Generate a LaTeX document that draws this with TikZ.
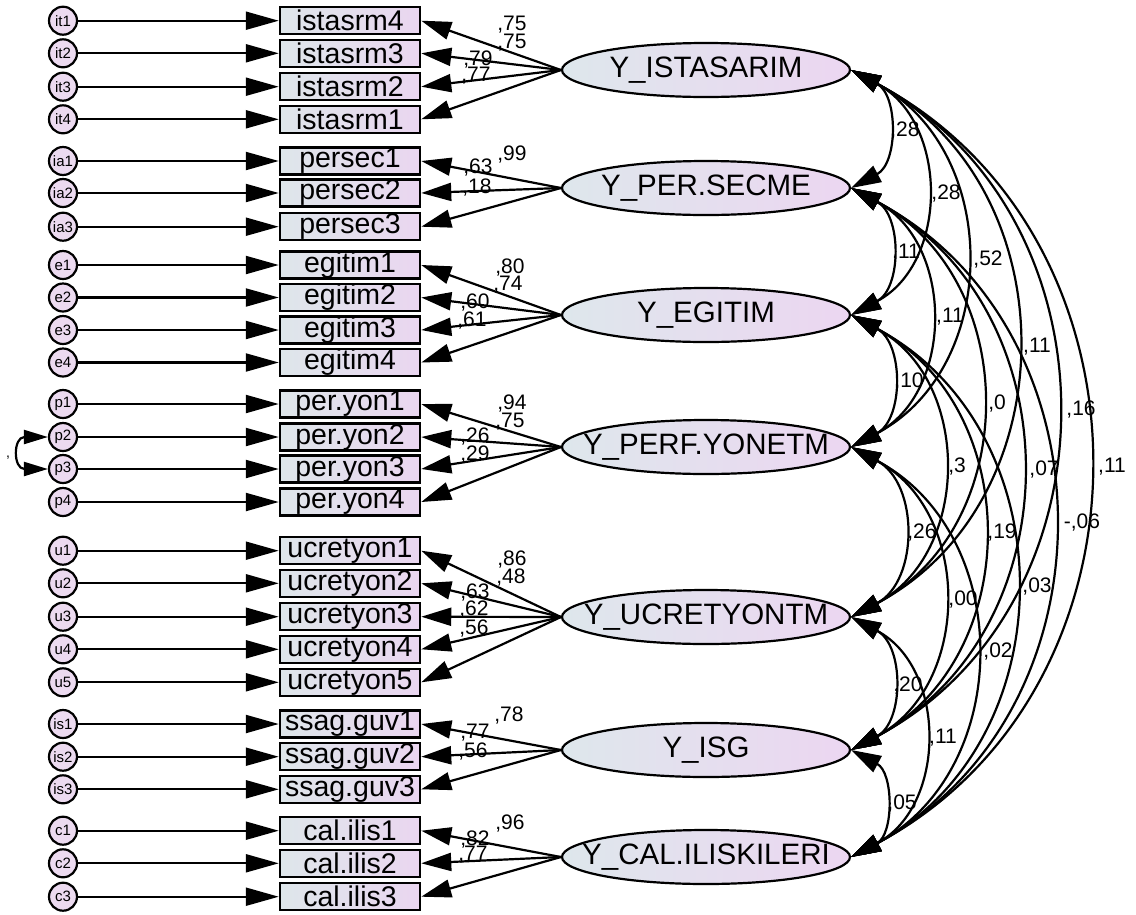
\documentclass[tikz,border=0pt]{standalone}
\usepackage{fontspec}
\setmainfont{Liberation Sans}
\usetikzlibrary{shapes.geometric,arrows.meta}
\definecolor{boxL}{RGB}{222,230,234}
\definecolor{boxR}{RGB}{234,214,240}
\definecolor{latL}{RGB}{222,231,236}
\definecolor{latR}{RGB}{236,214,241}
\definecolor{errfill}{RGB}{236,218,240}
\tikzset{
 err/.style={circle, draw, line width=2.2pt, fill=errfill, minimum size=28pt, inner sep=0pt, font=\fontsize{15}{15}\selectfont},
 obs/.style={rectangle, draw, line width=2.5pt, left color=boxL, right color=boxR, minimum width=140pt, minimum height=27pt, inner sep=0pt, font=\fontsize{28.5}{28.5}\selectfont},
 lat/.style={ellipse, draw, line width=2.2pt, left color=latL, right color=latR, minimum width=288pt, minimum height=54pt, inner sep=0pt, font=\fontsize{29.5}{29.5}\selectfont},
 lbl/.style={font=\fontsize{21}{21}\selectfont, inner sep=0pt},
 errarrow/.style={line width=2.2pt, -{Triangle[length=33pt,width=18pt]}},
 loadarrow/.style={line width=2.2pt, -{Triangle[length=30pt,width=18pt]}},
 covarc/.style={line width=2.2pt, {Triangle[length=30pt,width=18pt]}-{Triangle[length=30pt,width=18pt]}, bend left=62, looseness=1.16},
}
\begin{document}
\begin{tikzpicture}[x=1pt,y=1pt]
\useasboundingbox[fill=white] (0,0) rectangle (1136,-914);
% latent variables
\node[lat] (F1) at (706,-70) {\makebox[0pt]{Y\_ISTASARIM}};
\node[lat] (F2) at (706,-188) {\makebox[0pt]{Y\_PER.SECME}};
\node[lat] (F3) at (706,-315) {\makebox[0pt]{Y\_EGITIM}};
\node[lat] (F4) at (706,-447) {\makebox[0pt]{Y\_PERF.YONETM}};
\node[lat] (F5) at (706,-617) {\makebox[0pt]{Y\_UCRETYONTM}};
\node[lat] (F6) at (706,-750) {\makebox[0pt]{Y\_ISG}};
\node[lat] (F7) at (706,-857) {\makebox[0pt]{Y\_CAL.ILISKILERI}};
% observed variables and errors
\foreach \i/\y/\t/\u/\f in {
 1/20.7/istasrm4/it1/F1, 2/53.3/istasrm3/it2/F1, 3/86.7/istasrm2/it3/F1, 4/119.3/istasrm1/it4/F1,
 5/161/persec1/ia1/F2, 6/193/persec2/ia2/F2, 7/226.7/persec3/ia3/F2,
 8/265/egitim1/e1/F3, 9/297.5/egitim2/e2/F3, 10/330/egitim3/e3/F3, 11/362.5/egitim4/e4/F3,
 12/404/per.yon1/p1/F4, 13/437/per.yon2/p2/F4, 14/469/per.yon3/p3/F4, 15/502/per.yon4/p4/F4,
 16/550.7/ucretyon1/u1/F5, 17/583.3/ucretyon2/u2/F5, 18/616.7/ucretyon3/u3/F5, 19/649.3/ucretyon4/u4/F5, 20/682.3/ucretyon5/u5/F5,
 21/724/ssag.guv1/is1/F6, 22/756.7/ssag.guv2/is2/F6, 23/789.3/ssag.guv3/is3/F6,
 24/830.7/cal.ilis1/c1/F7, 25/863.3/cal.ilis2/c2/F7, 26/896.7/cal.ilis3/c3/F7}{
 \node[obs] (b\i) at (350,-\y) {\t};
 \node[err] (err\i) at (63,-\y) {\u};
 \draw[errarrow] (err\i) -- (b\i);
 \draw[loadarrow] (\f.west) -- (b\i.east);
}
% loading labels
\foreach \x/\y/\t in {512/25/{,75}, 512/43/{,75}, 478/60/{,79}, 476/76/{,77},
 512/155/{,99}, 478/168/{,63}, 477/188/{,18},
 510/268/{,80}, 508/285/{,74}, 475/303/{,60}, 472/321/{,61},
 512/404/{,94}, 510/422/{,75}, 475/437/{,26}, 475/455/{,29},
 512/560/{,86}, 511/578/{,48}, 475/593/{,63}, 474/610/{,62}, 474/629/{,56},
 509/716/{,78}, 475/733/{,77}, 473/751/{,56},
 510/823/{,96}, 475/839/{,82}, 473/855/{,77}}{
 \node[lbl] at (\x,-\y) {\t};
}
% covariance labels
\foreach \x/\y/\t in {905/131/{,28}, 946/194/{,28}, 988/260/{,52}, 1037/347/{,11}, 1081/410/{,16}, 1112/467/{,11},
 906/253/{,11}, 950/317/{,11}, 997/404/{,0}, 1044/470/{,07}, 1082/523/{-,06},
 909/382/{,10}, 957/467/{,3}, 1002/533/{,19}, 1037/587/{,03},
 922/533/{,26}, 963/600/{,00}, 998/652/{,02},
 908/685/{,20}, 943/738/{,11}, 902/803/{,05}}{
 \node[lbl] at (\x,-\y) {\t};
}
% covariance arcs
\foreach \a/\b in {1/2,1/3,1/4,1/5,1/6,1/7,2/3,2/4,2/5,2/6,2/7,3/4,3/5,3/6,3/7,4/5,4/6,4/7,5/6,5/7,6/7}{
 \draw[covarc] (F\a.east) to (F\b.east);
}
% error covariance p2-p3
\draw[line width=2.2pt, {Triangle[length=24pt,width=14pt]}-{Triangle[length=24pt,width=14pt]}] (err13.west) to[out=180,in=180,looseness=2.8] (err14.west);
\node[lbl, font=\fontsize{14}{14}\selectfont] (pcov) at (8,-458) {,};
\end{tikzpicture}
\end{document}
